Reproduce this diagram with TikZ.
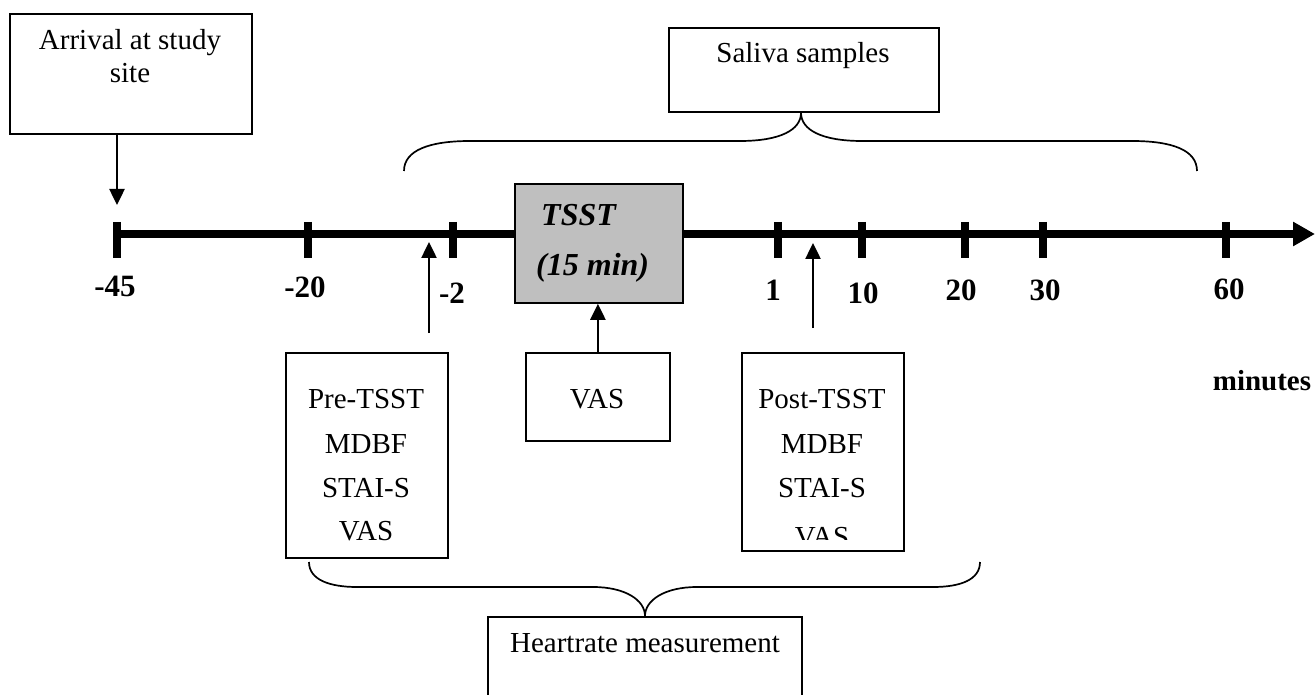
\documentclass[tikz,border=0pt]{standalone}
\usepackage{fontspec}
\setmainfont{Liberation Serif}
\usetikzlibrary{arrows.meta}
\begin{document}
\begin{tikzpicture}[x=1pt,y=-1pt,
  box/.style={draw, line width=1.8pt, inner sep=0pt, anchor=north west},
  txt/.style={font=\fontsize{29}{31}\selectfont, inner sep=0pt, anchor=base},
  num/.style={font=\fontsize{31}{33}\selectfont\bfseries, inner sep=0pt, anchor=base},
  tsstxt/.style={font=\fontsize{32}{34}\selectfont\bfseries\itshape, inner sep=0pt, anchor=base west},
  conn/.style={line width=2.5pt, -{Triangle[length=16pt,width=15pt]}},
  tick/.style={line width=8pt},
  brace/.style={line width=1.7pt}]
\useasboundingbox (0,0) rectangle (1315,695);
\clip (0,0) rectangle (1315,695);
% time axis
\coordinate (a0) at (117,234);
\coordinate (aend) at (1315,234);
\draw[line width=8pt, -{Triangle[length=22pt,width=23pt]}] (a0) -- (aend);
\foreach \n/\x in {t45/117, t20/308, t2/453, t1/778, t10/862, t20b/965, t30/1043, t60/1226}{
  \coordinate (\n) at (\x,234);
  \draw[tick] (\x,222) -- (\x,258);
}
% tick labels
\node[num] (l45) at (115,297) {-45};
\node[num] (l20) at (305,298) {-20};
\node[num] (l2) at (452,303) {-2};
\node[num] (l1) at (773,300) {1};
\node[num] (l10) at (863,303) {10};
\node[num] (l20b) at (961,301) {20};
\node[num] (l30) at (1045,300) {30};
\node[num] (l60) at (1229,299) {60};
\node[font=\fontsize{29}{31}\selectfont\bfseries, inner sep=0pt, anchor=base] (min) at (1262,390) {minutes};
% arrival
\node[box, minimum width=242, minimum height=120] (arr) at (9,13) {};
\node[txt] (arr1) at (130,50) {Arrival at study};
\node[txt] (arr2) at (130,83) {site};
\coordinate (arrtip) at (117,205);
\draw[conn] (arr.south -| arrtip) -- (arrtip);
% saliva
\node[box, minimum width=270, minimum height=84] (sal) at (668,27) {};
\node[txt] (sal1) at (803,63) {Saliva samples};
\draw[brace] (404,171) .. controls (404,150) and (430,141) .. (470,141) -- (740,141)
  .. controls (780,141) and (801,130) .. (sal.south -| 801,0)
  .. controls (801,130) and (822,141) .. (862,141) -- (1132,141)
  .. controls (1172,141) and (1197,150) .. (1197,171);
% TSST
\node[box, fill=black!25, minimum width=168, minimum height=119] (tsst) at (514,183) {};
\node[tsstxt] (ts1) at (541,226) {TSST};
\node[tsstxt] (ts2) at (536,276) {(15 min)};
% pre box
\node[box, minimum width=162, minimum height=205] (pre) at (285,352) {};
\node[txt] (p1) at (366,408) {Pre-TSST};
\node[txt] (p2) at (366,453) {MDBF};
\node[txt] (p3) at (366,497) {STAI-S};
\node[txt] (p4) at (366,540) {VAS};
\coordinate (prebase) at (429,333);
\coordinate (pretip) at (429,242);
\draw[conn] (prebase) -- (pretip);
% VAS box
\node[box, minimum width=144, minimum height=88] (vas) at (525,352) {};
\node[txt] (v1) at (597,408) {VAS};
\draw[conn] (vas.north) -- (vas.north |- tsst.south);
% post box
\node[box, minimum width=162, minimum height=198] (post) at (741,352) {};
\node[txt] (q1) at (822,408) {Post-TSST};
\node[txt] (q2) at (822,453) {MDBF};
\node[txt] (q3) at (822,497) {STAI-S};
\begin{scope}
  \clip (741,352) rectangle (903,539);
  \node[txt] (q4) at (822,546) {VAS};
\end{scope}
\coordinate (postbase) at (813,328);
\coordinate (posttip) at (813,243);
\draw[conn] (postbase) -- (posttip);
% heartrate
\node[box, minimum width=314, minimum height=100] (hr) at (487,616) {};
\node[txt] (h1) at (645,652) {Heartrate measurement};
\draw[brace] (309,562) .. controls (309,580) and (330,587) .. (357,587) -- (593,587)
  .. controls (625,587) and (645,600) .. (hr.north -| 645,0)
  .. controls (645,600) and (665,587) .. (697,587) -- (933,587)
  .. controls (960,587) and (980,580) .. (980,562);
\end{tikzpicture}
\end{document}
